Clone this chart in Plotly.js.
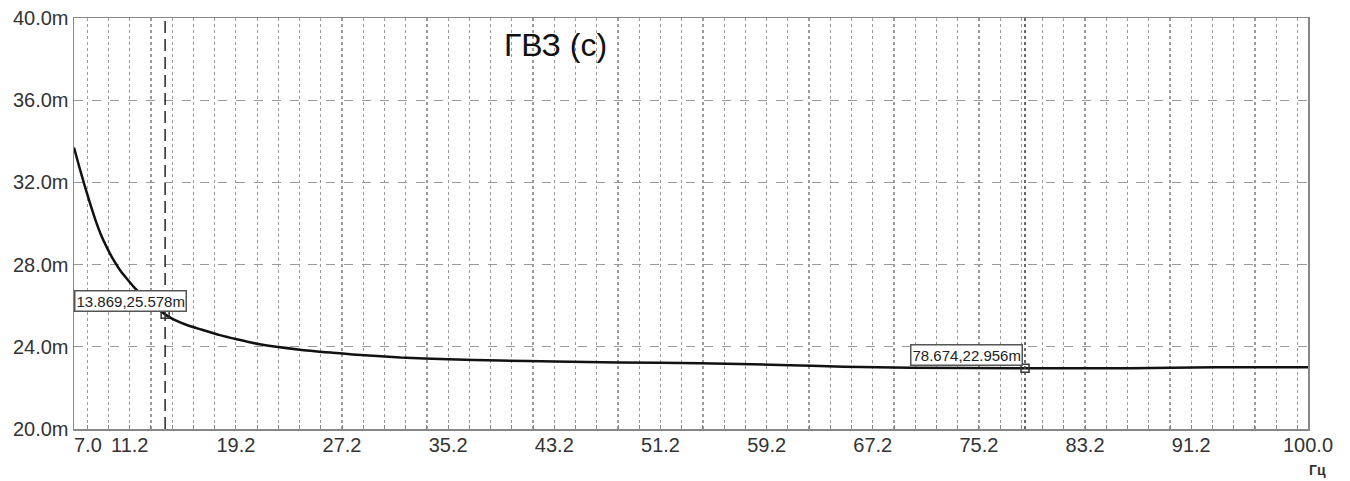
<!DOCTYPE html>
<html>
<head>
<meta charset="utf-8">
<script src="https://cdn.plot.ly/plotly-3.0.1.min.js"></script>
<style>
  html, body { margin: 0; padding: 0; background: #fff; }
  #chart { width: 1350px; height: 481px; }
</style>
</head>
<body>
<div id="chart"></div>
<script>
// Frequency (Гц) and group delay (m = ms)
const freq = [7.0, 7.4, 7.8, 8.2, 8.6, 9.0, 9.5, 10.0, 10.5, 11.0, 11.5, 12.0, 12.6, 13.2, 13.869, 14.5, 15.5, 16.5, 18.0, 19.2, 21.0, 24.0, 26.5, 28.0, 31.6, 35.2, 39.1, 43.2, 48.0, 54.2, 60.2, 65.0, 70.0, 78.674, 86.6, 93.0, 100.0];
const groupDelay = [33.7, 32.75, 31.85, 31.0, 30.2, 29.5, 28.8, 28.2, 27.7, 27.3, 26.92, 26.6, 26.24, 25.9, 25.578, 25.33, 25.06, 24.86, 24.57, 24.38, 24.12, 23.86, 23.71, 23.63, 23.48, 23.4, 23.33, 23.28, 23.24, 23.2, 23.12, 23.03, 22.98, 22.956, 22.96, 23.0, 23.0];

// Cursor markers
const markerFreq = [13.869, 78.674];
const markerDelay = [25.578, 22.956];
const markerLabels = markerFreq.map((f, i) => f.toFixed(3) + ',' + markerDelay[i].toFixed(3) + 'm');

// Tick labels
const xFirstTickVal = [7.0];
const xFirstTickText = ['7.0'];
const xTickVals = [11.2, 19.2, 27.2, 35.2, 43.2, 51.2, 59.2, 67.2, 75.2, 83.2, 91.2, 100.0];
const xTickText = ['11.2', '19.2', '27.2', '35.2', '43.2', '51.2', '59.2', '67.2', '75.2', '83.2', '91.2', '100.0'];
const yTickVals = [20, 24, 28, 32, 36, 40];
const yTickText = ['20.0m', '24.0m', '28.0m', '32.0m', '36.0m', '40.0m'];

const chartTitle = 'ГВЗ (с)';
const unitLabel = 'Гц';

const traces = [
  {
    x: freq, y: groupDelay, type: 'scatter', mode: 'lines',
    line: { color: '#111', width: 2.5, shape: 'spline', smoothing: 0.6 }, hoverinfo: 'skip', showlegend: false
  },
  {
    x: markerFreq, y: markerDelay, type: 'scatter', mode: 'markers',
    marker: { symbol: 'square-open', size: 8, color: '#333', line: { width: 1.5, color: '#333' } },
    showlegend: false
  },
  { // invisible traces to carry the labelled overlay axes
    x: [7, 100], y: [20, 20], xaxis: 'x2', yaxis: 'y', type: 'scatter', mode: 'lines',
    line: { width: 0 }, opacity: 0, hoverinfo: 'skip', showlegend: false
  },
  {
    x: [7, 100], y: [20, 20], xaxis: 'x3', yaxis: 'y', type: 'scatter', mode: 'lines',
    line: { width: 0 }, opacity: 0, hoverinfo: 'skip', showlegend: false
  }
];

const shapes = [
  { type: 'line', xref: 'x', yref: 'paper', x0: markerFreq[0], x1: markerFreq[0], y0: 0, y1: 1,
    line: { color: '#333', width: 1.6, dash: '12px,6px' } },
  { type: 'line', xref: 'x', yref: 'paper', x0: markerFreq[1], x1: markerFreq[1], y0: 0, y1: 1,
    line: { color: '#444', width: 1.6, dash: 'dot' } }
];

const labelFont = { family: 'Liberation Sans, Arial, sans-serif', size: 15, color: '#222' };

const annotations = [
  { xref: 'paper', yref: 'y', x: 0, y: markerDelay[0], xanchor: 'left', yanchor: 'bottom', yshift: 2,
    text: markerLabels[0], showarrow: false, font: labelFont,
    bgcolor: '#fff', bordercolor: '#555', borderwidth: 1.5, borderpad: 1 },
  { xref: 'x', yref: 'y', x: markerFreq[1], y: markerDelay[1], xanchor: 'right', yanchor: 'bottom', xshift: -2, yshift: 2,
    text: markerLabels[1], showarrow: false, font: labelFont,
    bgcolor: '#fff', bordercolor: '#555', borderwidth: 1.5, borderpad: 1 },
  { xref: 'paper', yref: 'paper', x: 0.39, y: 0.934, xanchor: 'center', yanchor: 'middle',
    text: chartTitle, showarrow: false,
    font: { family: 'Liberation Sans, Arial, sans-serif', size: 32, color: '#111' } },
  { xref: 'paper', yref: 'paper', x: 1.008, y: -0.10, xanchor: 'center', yanchor: 'middle',
    text: '<b>' + unitLabel + '</b>', showarrow: false,
    font: { family: 'Liberation Sans, Arial, sans-serif', size: 14, color: '#333' } }
];

const tickFontX = { family: 'Liberation Sans, Arial, sans-serif', size: 20, color: '#333' };

const layout = {
  width: 1350, height: 481,
  margin: { l: 74, r: 42, t: 18, b: 52 },
  paper_bgcolor: '#fff', plot_bgcolor: '#fff',
  showlegend: false,
  xaxis: {
    range: [7, 100], tickmode: 'linear', tick0: 0, dtick: 1.6,
    showticklabels: false,
    showgrid: true, gridcolor: '#9a9a9a', griddash: 'dot', gridwidth: 1.2,
    ticks: 'inside', ticklen: 4, tickcolor: '#888',
    showline: true, mirror: true, linecolor: '#888', linewidth: 1.5,
    zeroline: false
  },
  xaxis2: {
    overlaying: 'x', matches: 'x', side: 'bottom', anchor: 'y',
    range: [7, 100], tickmode: 'array', tickvals: xTickVals, ticktext: xTickText,
    tickangle: 0, showgrid: false, zeroline: false, showline: false, ticks: '',
    ticklabelstandoff: 2,
    tickfont: tickFontX
  },
  xaxis3: {
    overlaying: 'x', matches: 'x', side: 'bottom', anchor: 'y',
    range: [7, 100], tickmode: 'array', tickvals: xFirstTickVal, ticktext: xFirstTickText,
    tickangle: 0, showgrid: false, zeroline: false, showline: false, ticks: '',
    ticklabelposition: 'outside right', ticklabelstandoff: 2,
    tickfont: tickFontX
  },
  yaxis: {
    range: [20, 40], tickmode: 'array', tickvals: yTickVals, ticktext: yTickText,
    showgrid: true, gridcolor: '#9a9a9a', griddash: 'dash', gridwidth: 1.2,
    ticks: '', showline: true, mirror: true, linecolor: '#888', linewidth: 1.5,
    zeroline: false,
    tickfont: { family: 'Liberation Sans, Arial, sans-serif', size: 20, color: '#333' }
  },
  shapes: shapes,
  annotations: annotations
};

Plotly.newPlot('chart', traces, layout, { staticPlot: true, displayModeBar: false });
</script>
</body>
</html>
